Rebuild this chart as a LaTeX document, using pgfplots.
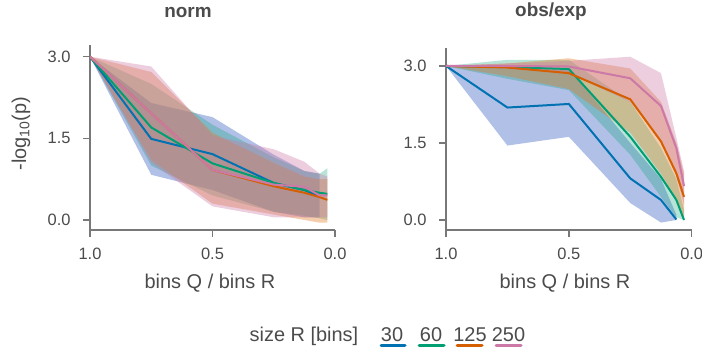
\documentclass[border=0pt]{standalone}
\usepackage{pgfplots}
\pgfplotsset{compat=1.18}
\usepackage{fontspec}
\setmainfont{Liberation Sans}
\definecolor{cb1}{RGB}{0,114,178}
\definecolor{cb2}{RGB}{0,158,115}
\definecolor{cb3}{RGB}{213,94,0}
\definecolor{cb4}{RGB}{204,121,167}
\definecolor{fb1}{RGB}{50,90,190}
\definecolor{fb2}{RGB}{0,158,115}
\definecolor{fb3}{RGB}{230,120,30}
\definecolor{fb4}{RGB}{204,121,167}
\definecolor{spine}{RGB}{120,120,120}
\definecolor{txt}{RGB}{75,75,75}
\pgfplotsset{
  myaxis/.style={
    scale only axis, x dir=reverse, xmin=0, xmax=1,
    axis x line*=bottom, axis y line*=left,
    axis line style={draw=spine, line width=1.5bp},
    tick style={draw=spine, line width=1.5bp},
    tick align=outside, major tick length=7bp,
    xtick={0,0.5,1}, xticklabels={0.0,0.5,1.0},
    ytick={0,1.5,3}, yticklabels={0.0,1.5,3.0},
    ticklabel style={font=\fontsize{16.5}{19}\selectfont, text=txt},
    xticklabel style={yshift=-7bp},
    yticklabel style={xshift=-9bp},
    line join=round,
  },
  b1/.style={fill=fb1, fill opacity=0.38, draw=none},
  b2/.style={fill=fb2, fill opacity=0.28, draw=none},
  b3/.style={fill=fb3, fill opacity=0.37, draw=none},
  b4/.style={fill=fb4, fill opacity=0.37, draw=none},
  l1/.style={draw=cb1, line width=2bp, mark=none},
  l2/.style={draw=cb2, line width=2bp, mark=none},
  l3/.style={draw=cb3, line width=2bp, mark=none},
  l4/.style={draw=cb4, line width=2bp, mark=none},
}
\begin{document}
\begin{tikzpicture}[x=1bp,y=1bp]
\useasboundingbox (0,0) rectangle (702,347);
% ---------------- norm ----------------
\begin{axis}[myaxis, at={(90bp,117bp)}, anchor=south west,
  width=245bp, height=185bp, ymin=-0.184, ymax=3.215]
\addplot[b1] coordinates {(1,3.0) (0.75,2.15) (0.5,1.89) (0.25,1.2) (0.125,0.9) (0.0625,0.85)
  (0.0625,0.05) (0.125,0.05) (0.25,0.15) (0.5,0.55) (0.75,0.83) (1,3.0)} -- cycle;
\addplot[b2] coordinates {(1,3.0) (0.75,2.5) (0.5,1.75) (0.25,1.15) (0.125,0.9) (0.0625,0.85) (0.03125,0.95)
  (0.03125,0.0) (0.0625,0.03) (0.125,0.08) (0.25,0.15) (0.5,0.45) (0.75,1.0) (1,3.0)} -- cycle;
\addplot[b3] coordinates {(1,3.0) (0.75,2.72) (0.5,1.6) (0.25,1.05) (0.125,0.8) (0.0625,0.75) (0.03125,0.75)
  (0.03125,-0.05) (0.0625,-0.05) (0.125,0.0) (0.25,0.1) (0.5,0.3) (0.75,1.1) (1,3.0)} -- cycle;
\addplot[b4] coordinates {(1,3.0) (0.75,2.82) (0.5,1.55) (0.25,1.3) (0.125,1.07) (0.0625,0.85) (0.03125,0.8)
  (0.03125,0.05) (0.0625,0.05) (0.125,0.05) (0.25,0.05) (0.5,0.25) (0.75,1.05) (1,3.0)} -- cycle;
\addplot[l1] coordinates {(1,3.0) (0.75,1.49) (0.5,1.21) (0.25,0.68) (0.125,0.55) (0.0625,0.43)};
\addplot[l2] coordinates {(1,3.0) (0.75,1.70) (0.5,1.04) (0.25,0.68) (0.125,0.55) (0.0625,0.50) (0.03125,0.48)};
\addplot[l3] coordinates {(1,3.0) (0.75,1.96) (0.5,0.92) (0.25,0.62) (0.125,0.50) (0.0625,0.42) (0.03125,0.37)};
\addplot[l4] coordinates {(1,3.0) (0.75,1.96) (0.5,0.92) (0.25,0.65) (0.125,0.61) (0.0625,0.45) (0.03125,0.45)};
\end{axis}
% ---------------- obs/exp ----------------
\begin{axis}[myaxis, at={(446bp,117bp)}, anchor=south west,
  width=245.7bp, height=182bp, ymin=-0.195, ymax=3.35]
\addplot[b1] coordinates {(1,3.0) (0.75,3.0) (0.5,2.95) (0.25,1.5) (0.125,0.8) (0.0625,0.1)
  (0.0625,0.0) (0.125,-0.05) (0.25,0.33) (0.5,1.62) (0.75,1.45) (1,3.0)} -- cycle;
\addplot[b2] coordinates {(1,3.0) (0.75,3.12) (0.5,3.12) (0.25,2.3) (0.125,1.4) (0.0625,0.8) (0.03125,0.2)
  (0.03125,0.0) (0.0625,0.05) (0.125,0.45) (0.25,1.27) (0.5,2.53) (0.75,2.75) (1,3.0)} -- cycle;
\addplot[b3] coordinates {(1,3.0) (0.75,3.05) (0.5,3.15) (0.25,2.95) (0.125,2.3) (0.0625,1.5) (0.03125,0.9)
  (0.03125,0.05) (0.0625,0.4) (0.125,0.9) (0.25,1.7) (0.5,2.55) (0.75,2.8) (1,3.0)} -- cycle;
\addplot[b4] coordinates {(1,3.0) (0.75,3.05) (0.5,3.1) (0.25,3.18) (0.125,2.86) (0.0625,1.6) (0.03125,0.95)
  (0.03125,0.3) (0.0625,0.85) (0.125,1.55) (0.25,2.3) (0.5,2.85) (0.75,2.95) (1,3.0)} -- cycle;
\addplot[l1] coordinates {(1,3.0) (0.75,2.19) (0.5,2.26) (0.25,0.81) (0.125,0.39) (0.0625,0.01)};
\addplot[l2] coordinates {(1,3.0) (0.75,2.98) (0.5,2.94) (0.25,1.62) (0.125,0.84) (0.0625,0.39) (0.03125,0.0)};
\addplot[l3] coordinates {(1,3.0) (0.75,2.97) (0.5,2.86) (0.25,2.35) (0.125,1.53) (0.0625,0.91) (0.03125,0.45)};
\addplot[l4] coordinates {(1,3.0) (0.75,3.0) (0.5,2.99) (0.25,2.76) (0.125,2.22) (0.0625,1.40) (0.03125,0.66)};
\end{axis}
% ---------------- texts ----------------
\node[text=txt, font=\bfseries\fontsize{19}{22}\selectfont] at (188,335) {norm};
\node[text=txt, font=\bfseries\fontsize{19}{22}\selectfont] at (551,335) {obs/exp};
\node[text=txt, font=\fontsize{20}{24}\selectfont, anchor=base] at (210,59) {bins Q / bins R};
\node[text=txt, font=\fontsize{20}{24}\selectfont, anchor=base] at (565,59) {bins Q / bins R};
\node[text=txt, font=\fontsize{20}{24}\selectfont, rotate=90] at (21,213.5) {-log\textsubscript{10}(p)};
% ---------------- legend ----------------
\node[text=txt, font=\fontsize{20}{24}\selectfont, anchor=base] at (304,5.3) {size R [bins]};
\node[text=txt, font=\fontsize{20}{24}\selectfont, anchor=base] at (392,5.3) {30};
\node[text=txt, font=\fontsize{20}{24}\selectfont, anchor=base] at (431,5.3) {60};
\node[text=txt, font=\fontsize{20}{24}\selectfont, anchor=base] at (470,5.3) {125};
\node[text=txt, font=\fontsize{20}{24}\selectfont, anchor=base] at (508.5,5.3) {250};
\draw[cb1, line width=3bp, line cap=round] (381,1.5) -- (405,1.5);
\draw[cb2, line width=3bp, line cap=round] (419,1.5) -- (444,1.5);
\draw[cb3, line width=3bp, line cap=round] (457,1.5) -- (482,1.5);
\draw[cb4, line width=3bp, line cap=round] (496,1.5) -- (521,1.5);
\end{tikzpicture}
\end{document}
